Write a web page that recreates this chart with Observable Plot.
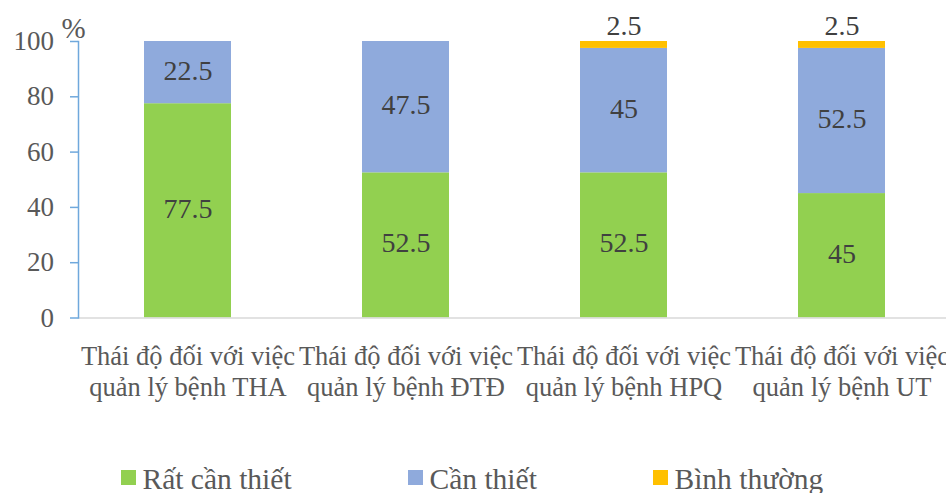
<!DOCTYPE html>
<html><head><meta charset="utf-8">
<script src="https://cdn.jsdelivr.net/npm/d3@7"></script>
<script src="https://cdn.jsdelivr.net/npm/@observablehq/plot@0.6"></script>
<style>
body{margin:0;background:#fff;}
#wrap{position:relative;width:946px;height:493px;overflow:hidden;font-family:'Liberation Serif','Times New Roman',serif;}
#chart{position:absolute;left:0;top:0;}
#chart text{font-family:'Liberation Serif','Times New Roman',serif !important;font-variant:normal !important;}
.leg{position:absolute;top:462.5px;display:flex;align-items:flex-start;}
.sw{width:15px;height:15px;margin-top:7.5px;margin-right:6.5px;flex:none;}
.lt{font-size:29.5px;color:#595959;white-space:nowrap;line-height:1.1;}
</style></head>
<body>
<div id="wrap"><div id="chart"></div></div>
<script>
const categories = [
  "Thái độ đối với việc\nquản lý bệnh THA",
  "Thái độ đối với việc\nquản lý bệnh ĐTĐ",
  "Thái độ đối với việc\nquản lý bệnh HPQ",
  "Thái độ đối với việc\nquản lý bệnh UT"
];
const seriesNames = ["Rất cần thiết", "Cần thiết", "Bình thường"];
const ratCanThiet = [77.5, 52.5, 52.5, 45];
const canThiet = [22.5, 47.5, 45, 52.5];
const binhThuong = [0, 0, 2.5, 2.5];
const seriesColors = ["#92D050", "#8FAADC", "#FFC000"];
const yTicks = [0, 20, 40, 60, 80, 100];

const seriesValues = [ratCanThiet, canThiet, binhThuong];
const rows = categories.flatMap((c, i) => seriesNames.map((s, j) => ({cat: c, series: s, value: seriesValues[j][i]})));
const topRows = rows.filter(d => d.series === seriesNames[2] && d.value > 0).map(d => ({...d, top: 100}));
const midRows = rows.filter(d => d.series !== seriesNames[2]);

const FF = "'Liberation Serif','Times New Roman',serif";
const W = 946, H = 430;
const plot = Plot.plot({
  width: W,
  height: H,
  marginLeft: 78,
  marginRight: -5,
  marginTop: 41,
  marginBottom: H - 317.5,
  style: {fontFamily: FF, background: "transparent", overflow: "visible"},
  x: {domain: categories, paddingInner: 0.6, paddingOuter: 0.3, label: null},
  y: {domain: [0, 100], label: null},
  color: {domain: seriesNames, range: seriesColors},
  marks: [
    Plot.barY(rows, {x: "cat", y: "value", fill: "series", order: seriesNames}),
    Plot.ruleY([0], {stroke: "#D9D9D9", strokeWidth: 1.5}),
    Plot.frame({anchor: "left", stroke: "#6FA8DC", strokeWidth: 1.5}),
    Plot.axisY({ticks: yTicks, tickSize: 8, tickPadding: 16.5, stroke: "#6FA8DC", strokeWidth: 1.5, fontSize: 27, fill: "#595959", label: null, fontFamily: FF}),
    Plot.axisX({tickSize: 0, tickPadding: 24, fontSize: 26.5, lineHeight: 1.2, fill: "#595959", label: null, fontFamily: FF}),
    Plot.text(midRows, Plot.stackY({x: "cat", y: "value", z: "series", order: seriesNames, text: d => String(d.value), dy: -2, fontSize: 28, fill: "#404040", fontFamily: FF})),
    Plot.text(topRows, {x: "cat", y: "top", text: d => String(d.value), dy: -15, fontSize: 28, fill: "#404040", fontFamily: FF}),
    Plot.text(["%"], {frameAnchor: "top-left", textAnchor: "middle", dx: -5, dy: -24, fontSize: 29, fill: "#595959", fontFamily: FF})
  ]
});
document.getElementById("chart").appendChild(plot);

const legendX = [121, 408, 653];
const wrap = document.getElementById("wrap");
seriesNames.forEach((name, i) => {
  const item = document.createElement("div");
  item.className = "leg";
  item.style.left = legendX[i] + "px";
  const sw = document.createElement("span");
  sw.className = "sw";
  sw.style.background = seriesColors[i];
  const t = document.createElement("span");
  t.className = "lt";
  t.textContent = name;
  item.appendChild(sw);
  item.appendChild(t);
  wrap.appendChild(item);
});
</script>
</body></html>
